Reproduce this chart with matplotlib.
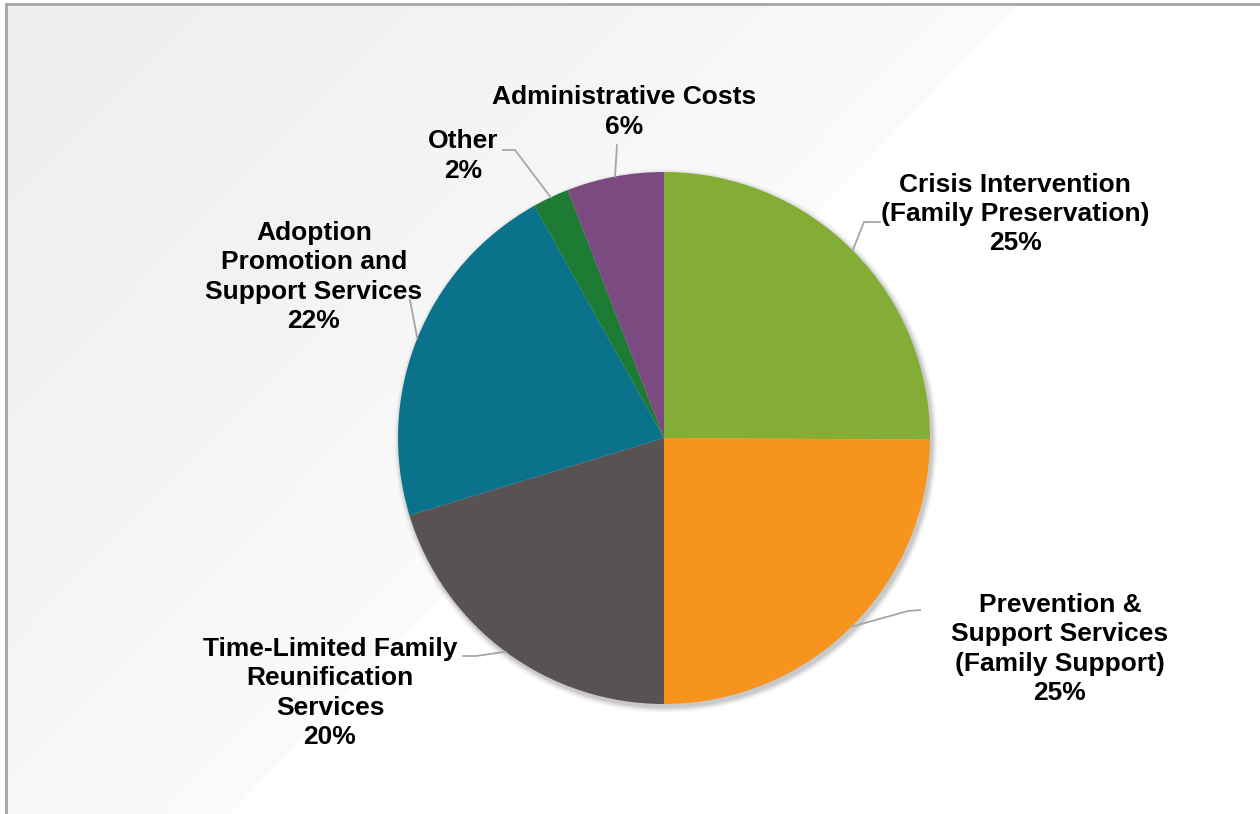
import numpy as np
import matplotlib
matplotlib.use("Agg")
import matplotlib.pyplot as plt
from matplotlib.colors import LinearSegmentedColormap
from matplotlib.patches import Polygon, Circle

plt.rcParams['font.family'] = ['Liberation Sans', 'DejaVu Sans']

# data
categories = ["Crisis Intervention\n(Family Preservation)",
              "Prevention &\nSupport Services\n(Family Support)",
              "Time-Limited Family\nReunification\nServices",
              "Adoption\nPromotion and\nSupport Services",
              "Other",
              "Administrative Costs"]
shares = [25.1, 24.9, 20.3, 21.6, 2.2, 5.9]
pct_labels = ["25%", "25%", "20%", "22%", "2%", "6%"]
colors = ["#83ad35", "#f7941e", "#595253", "#0b728c", "#1e7b34", "#7a4a80"]

W, H = 1260, 814
fig = plt.figure(figsize=(W / 100, H / 100), dpi=100)
ax = fig.add_axes([0, 0, 1, 1])
ax.set_xlim(0, W)
ax.set_ylim(0, H)
ax.set_aspect("equal")
ax.axis("off")

def Y(py):
    return H - py

# light gray diagonal background, fading towards the diagonal edge
gx, gy = np.meshgrid(np.linspace(6, 1020, 300), np.linspace(4, 814, 240))
nx, ny = 810 / 1131, 790 / 1131
dist = -((gx - 1020) * nx + (gy - 4) * ny)
grad = 1 - np.clip(dist / 726, 0, 1)
bg_cmap = LinearSegmentedColormap.from_list("bg", ["#eeeeee", "#f3f3f3", "#fbfbfb"])
img = ax.imshow(grad, extent=[6, 1020, Y(814), Y(4)], origin="upper", cmap=bg_cmap,
                aspect="auto", zorder=0, interpolation="bilinear")
bg_poly = Polygon([(6, Y(4)), (1020, Y(4)), (230, 0), (6, 0)], closed=True,
                  transform=ax.transData, facecolor="none", edgecolor="none")
ax.add_patch(bg_poly)
img.set_clip_path(bg_poly)

# frame
ax.plot([6, W], [Y(4), Y(4)], color="#a6a6a6", lw=2, zorder=1)
ax.plot([6, 6], [Y(4), 0], color="#a6a6a6", lw=2, zorder=1)

cx, cy, r = 664, Y(438), 266

# soft shadow
for k, a in zip(range(6, 0, -1), [0.02, 0.025, 0.03, 0.04, 0.05, 0.06]):
    ax.add_patch(Circle((cx + 2, cy - 3), r + k, color="#000000", alpha=a, lw=0, zorder=2))

wedges, _ = ax.pie(shares, colors=colors, startangle=90, counterclock=False,
                   center=(cx, cy), radius=r, frame=True,
                   wedgeprops=dict(linewidth=0, zorder=3))
ax.set_xlim(0, W)
ax.set_ylim(0, H)
ax.axis("off")

# label placement: text center, leader path (elbow points)
label_pos = [(1015, Y(214)), (1060, Y(649)), (330, Y(693)),
             (314, Y(277)), (463, Y(156)), (624, Y(112))]
leader_pts = [[(864, Y(222)), (880, Y(222))],
              [(908, Y(611)), (920, Y(610))],
              [(476, Y(656)), (463, Y(656))],
              [(410, Y(300))],
              [(515, Y(150)), (503, Y(150))],
              [(617, Y(145))]]

for w, cat, pct, (tx, ty), pts in zip(wedges, categories, pct_labels, label_pos, leader_pts):
    mid = np.deg2rad((w.theta1 + w.theta2) / 2)
    ex, ey = cx + r * np.cos(mid), cy + r * np.sin(mid)
    xs = [ex] + [p[0] for p in pts]
    ys = [ey] + [p[1] for p in pts]
    ax.plot(xs, ys, color="#a6a6a6", lw=1.3, zorder=4)
    ax.text(tx, ty, f"{cat}\n{pct}", ha="center", va="center", fontsize=19,
            fontweight="bold", linespacing=1.28, color="black", zorder=5)

fig.savefig("out.png", dpi=100)
